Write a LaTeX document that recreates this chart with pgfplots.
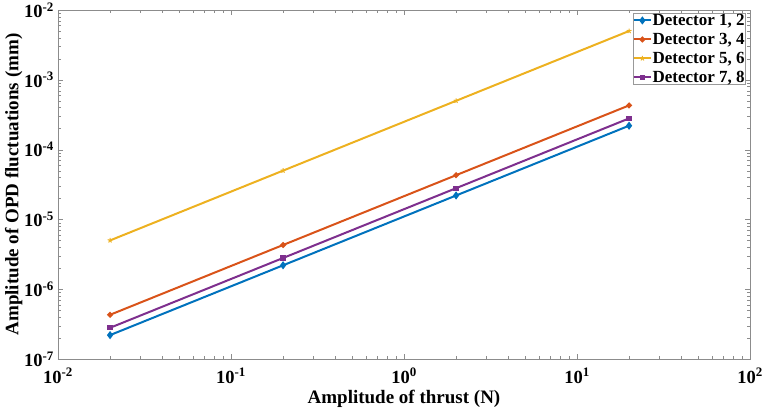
\documentclass[border=0pt]{standalone}
\usepackage{fontspec}
\setmainfont{Liberation Serif}
\usepackage{pgfplots}
\pgfplotsset{compat=1.18}
\definecolor{c1}{rgb}{0,0.447,0.741}
\definecolor{c2}{rgb}{0.85,0.325,0.098}
\definecolor{c3}{rgb}{0.929,0.694,0.125}
\definecolor{c4}{rgb}{0.494,0.184,0.556}
\begin{document}
\begin{tikzpicture}
\begin{axis}[
  at={(0,0)}, anchor=south west,
  scale only axis, width=692pt, height=349pt,
  xmode=log, ymode=log,
  xmin=1e-2, xmax=1e2, ymin=1e-7, ymax=1e-2,
  xtick={1e-2,1e-1,1,1e1,1e2},
  xticklabels={\textbf{10}\textsuperscript{\textbf{-2}},\textbf{10}\textsuperscript{\textbf{-1}},\textbf{10}\textsuperscript{\textbf{0}},\textbf{10}\textsuperscript{\textbf{1}},\textbf{10}\textsuperscript{\textbf{2}}},
  ytick={1e-7,1e-6,1e-5,1e-4,1e-3,1e-2},
  yticklabels={\textbf{10}\textsuperscript{\textbf{-7}},\textbf{10}\textsuperscript{\textbf{-6}},\textbf{10}\textsuperscript{\textbf{-5}},\textbf{10}\textsuperscript{\textbf{-4}},\textbf{10}\textsuperscript{\textbf{-3}},\textbf{10}\textsuperscript{\textbf{-2}}},
  tick label style={font=\fontsize{18.5}{20}\selectfont, inner sep=1pt},
  xticklabel style={yshift=-8pt},
  yticklabel style={xshift=-3pt},
  axis line style={black!45},
  tick style={black!45},
  major tick length=5pt, minor tick length=3pt,
  xlabel={\textbf{Amplitude of thrust (N)}},
  ylabel={\textbf{Amplitude of OPD fluctuations (mm)}},
  xlabel style={yshift=-2pt},
  ylabel style={yshift=-3pt},
  label style={font=\fontsize{19}{21}\selectfont},
  legend style={at={(0.993,0.99)}, anchor=north east, draw=black!40, fill=white,
    font=\fontsize{17}{19}\selectfont\bfseries, inner sep=0pt, outer sep=0pt, row sep=5pt,
    nodes={inner sep=0.6pt}},
  legend cell align=left,
  every axis plot/.append style={line width=2pt, mark size=2pt},
]
\addplot[c1, mark=diamond*, mark size=2.5pt] coordinates {(0.02,2.2e-7) (0.2,2.2e-6) (2,2.2e-5) (20,2.2e-4)};
\addlegendentry{Detector 1, 2}
\addplot[c2, mark=*, mark size=1.8pt] coordinates {(0.02,4.3e-7) (0.2,4.3e-6) (2,4.3e-5) (20,4.3e-4)};
\addlegendentry{Detector 3, 4}
\addplot[c3, mark=star, mark size=2.5pt, mark options={line width=1pt}] coordinates {(0.02,5e-6) (0.2,5e-5) (2,5e-4) (20,5e-3)};
\addlegendentry{Detector 5, 6}
\addplot[c4, mark=square*, mark size=1.6pt] coordinates {(0.02,2.8e-7) (0.2,2.8e-6) (2,2.8e-5) (20,2.8e-4)};
\addlegendentry{Detector 7, 8}
\end{axis}
\pgfresetboundingbox
\path (-58pt,-57pt) rectangle (704pt,359pt);
\end{tikzpicture}
\end{document}
